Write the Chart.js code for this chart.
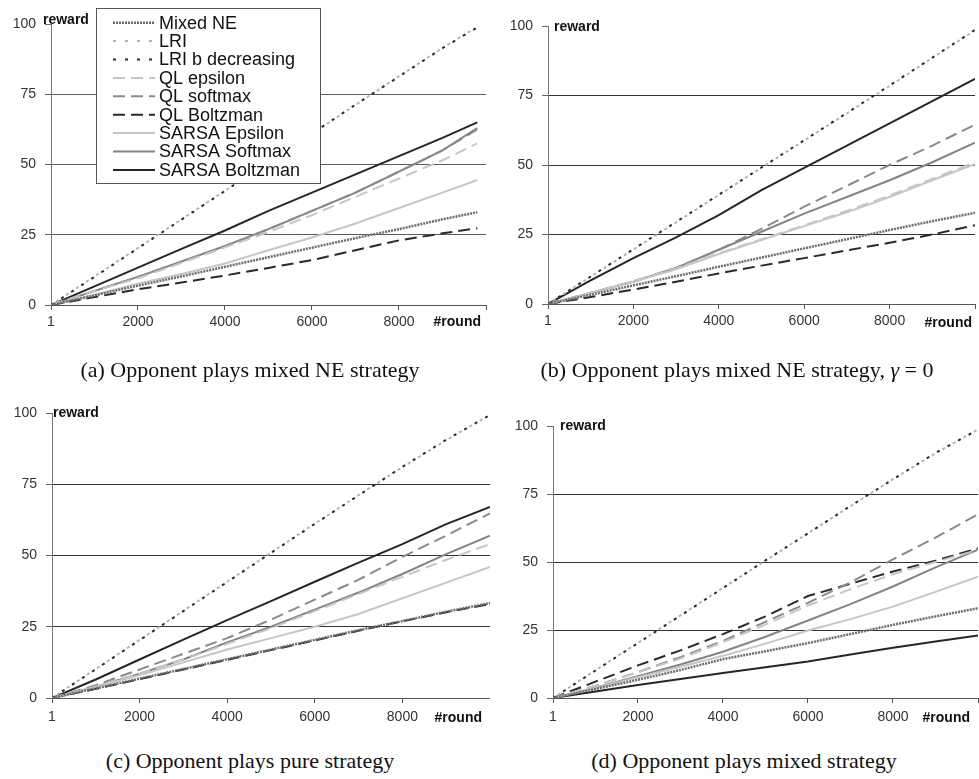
<!DOCTYPE html>
<html>
<head>
<meta charset="utf-8">
<script src="https://cdn.jsdelivr.net/npm/chart.js@4.4.0/dist/chart.umd.min.js"></script>
<style>
  body { margin: 0; background: #fff; }
  #page { position: relative; width: 979px; height: 779px; overflow: hidden; background: #fff; }
  .clip { position: absolute; overflow: hidden; }
  .inner { position: relative; height: 100%; }
  .caption { position: absolute; width: 500px; text-align: center; white-space: nowrap;
    font: 22px/22px "Liberation Serif", "Times New Roman", serif; color: #111; }
</style>
</head>
<body>
<div id="page">
  <div class="clip" style="left:0;top:0;width:490px;height:335px"><div class="inner" style="width:490px"><canvas id="chartA"></canvas></div></div>
  <div class="clip" style="left:490px;top:0;width:489px;height:334px"><div class="inner" style="width:489px"><canvas id="chartB"></canvas></div></div>
  <div class="clip" style="left:0;top:380px;width:490px;height:348px"><div class="inner" style="width:496px"><canvas id="chartC"></canvas></div></div>
  <div class="clip" style="left:490px;top:380px;width:489px;height:348px"><div class="inner" style="width:494px"><canvas id="chartD"></canvas></div></div>

  <div class="caption" style="left:0;top:359px">(a) Opponent plays mixed NE strategy</div>
  <div class="caption" style="left:487px;top:359px">(b) Opponent plays mixed NE strategy, <i>γ</i> = 0</div>
  <div class="caption" style="left:0;top:750px">(c) Opponent plays pure strategy</div>
  <div class="caption" style="left:494px;top:750px">(d) Opponent plays mixed strategy</div>
</div>
<script>
const seriesNames = ["Mixed NE", "LRI", "LRI b decreasing", "QL epsilon", "QL softmax",
  "QL Boltzman", "SARSA Epsilon", "SARSA Softmax", "SARSA Boltzman"];

const roundsA = [1, 1000, 2000, 3000, 4000, 5000, 6000, 7000, 8000, 9000, 9800];
const rounds = [1, 1000, 2000, 3000, 4000, 5000, 6000, 7000, 8000, 9000, 10000];
const roundTicks = [1, 2000, 4000, 6000, 8000, 10000];
const rewardTicks = [0, 25, 50, 75, 100];

// (a) opponent plays mixed NE strategy
const mixedNeA = [0, 3.4, 6.9, 10.2, 13.6, 17, 20.4, 23.8, 27, 30.5, 33];
const lriA = [0, 10.2, 20.3, 30.5, 40.7, 50.8, 61, 71.2, 81.4, 91.5, 99];
const lriDecA = [0, 10, 20.2, 30.4, 40.6, 50.9, 61, 71.3, 81.3, 91.4, 98.8];
const qlEpsA = [0, 5, 9.5, 15, 20.5, 26, 32, 38.5, 45, 51.5, 57.5];
const qlSoftA = [0, 5, 10, 15.3, 20.8, 27, 33.5, 40, 47.5, 55, 62.5];
const qlBoltzA = [0, 2.8, 5.6, 8, 10.5, 13.2, 16, 19.5, 23, 25.5, 27.3];
const sarsaEpsA = [0, 3.7, 7.6, 11, 14.8, 19.5, 24, 29, 34.5, 40, 44.5];
const sarsaSoftA = [0, 5, 10, 15.5, 21, 27, 33.5, 40, 47.5, 55, 63];
const sarsaBoltzA = [0, 6.6, 13.3, 20, 26.5, 33.5, 40, 46.5, 53, 59.5, 65];

// (b) mixed NE, gamma = 0
const mixedNeB = [0, 3.3, 6.7, 10, 13.4, 16.7, 20, 23.3, 26.6, 29.8, 32.8];
const lriB = [0, 9.8, 19.6, 29.4, 39.2, 49, 58.8, 68.6, 78.4, 88.5, 98.5];
const lriDecB = [0, 9.9, 19.7, 29.5, 39.3, 49.1, 58.9, 68.7, 78.6, 88.6, 98.6];
const qlEpsB = [0, 4, 8.2, 12.8, 18.3, 23.3, 28.3, 33.5, 39, 45, 51];
const qlSoftB = [0, 4, 8.2, 13, 19.5, 27, 35, 42.5, 50, 57, 64.5];
const qlBoltzB = [0, 2.5, 5.2, 8, 11, 13.8, 16.5, 19.3, 22, 25, 28.3];
const sarsaEpsB = [0, 4, 8, 12.5, 18, 23, 28, 33, 38.5, 44.5, 50.3];
const sarsaSoftB = [0, 4, 8, 13, 19.5, 26, 32.5, 38.5, 44.5, 51, 58];
const sarsaBoltzB = [0, 8.5, 16.5, 24, 32, 41, 49, 57, 65, 73, 81];

// (c) pure strategy
const mixedNeC = [0, 3.4, 6.8, 10.2, 13.6, 17, 20.4, 23.8, 27, 30.3, 33.3];
const lriC = [0, 10.2, 20.4, 30.6, 40.8, 51, 61.2, 71.2, 81, 90.5, 99.4];
const lriDecC = [0, 10.1, 20.3, 30.5, 40.7, 50.9, 61.1, 71.1, 81.1, 90.6, 99.3];
const qlEpsC = [0, 4, 8.5, 13.5, 19, 24.5, 30.5, 36.5, 42.5, 48.5, 54];
const qlSoftC = [0, 4.5, 10, 15.5, 21, 27.5, 34.5, 41.5, 49.5, 57, 64.8];
const qlBoltzC = [0, 3.2, 6.6, 10, 13.4, 16.8, 20.2, 23.6, 26.9, 30.1, 33];
const sarsaEpsC = [0, 4, 8, 12.5, 17, 21, 25, 29.5, 35, 40.5, 46];
const sarsaSoftC = [0, 4, 8.5, 13.5, 19.5, 25, 31, 37, 43.5, 50.5, 57];
const sarsaBoltzC = [0, 6.5, 13.5, 20.5, 27.3, 34, 40.8, 47.5, 54, 61, 67];

// (d) mixed strategy
const mixedNeD = [0, 3.3, 6.7, 10.3, 14.3, 17.2, 20.2, 23.5, 26.9, 30, 33];
const lriD = [0, 10.2, 20.3, 30.4, 40.5, 50.5, 60.6, 70.5, 80.5, 90, 98.7];
const lriDecD = [0, 10.1, 20.2, 30.3, 40.4, 50.6, 60.5, 70.6, 80.4, 90.1, 98.6];
const qlEpsD = [0, 4.5, 9.5, 14.5, 20.5, 27, 34, 40, 45.5, 50, 54.5];
const qlSoftD = [0, 4.5, 9.5, 15, 21, 28, 35, 42.5, 51, 59, 67.5];
const qlBoltzD = [0, 6, 12, 17.5, 23.5, 30, 37.5, 42, 46.5, 50.5, 55];
const sarsaEpsD = [0, 3.7, 7.6, 11.5, 15.5, 20, 24.8, 29, 33.6, 39, 44.6];
const sarsaSoftD = [0, 3.8, 8, 12.3, 17, 22.5, 28.5, 34.5, 41, 48, 54.5];
const sarsaBoltzD = [0, 2.4, 4.8, 7, 9.2, 11.3, 13.4, 16, 18.5, 20.8, 23];

const FONT = "'Liberation Sans', Arial, sans-serif";

// line look for each series, same order as seriesNames
const seriesStyles = [
  { color: "#6c6c6c", width: 2.5, dash: [2, 1] },
  { color: "#b4b4b4", width: 2, dash: [3, 9], offset: 6 },
  { color: "#2a2a2a", width: 2, dash: [3, 9] },
  { color: "#c6c6c6", width: 2, dash: [12, 6] },
  { color: "#8a8a8a", width: 2, dash: [12, 6] },
  { color: "#2a2a2a", width: 2, dash: [12, 6] },
  { color: "#c6c6c6", width: 2 },
  { color: "#848484", width: 2 },
  { color: "#262626", width: 2 },
];

// "reward" and "#round" words next to the axes
const axisWords = {
  id: "axisWords",
  afterDraw(chart, args, opts) {
    const { ctx, chartArea } = chart;
    ctx.save();
    ctx.fillStyle = "#111";
    ctx.font = "bold 14px " + FONT;
    ctx.textBaseline = "middle";
    ctx.textAlign = "left";
    ctx.fillText("reward", chartArea.left + opts.rewardDx, chartArea.top + opts.rewardDy);
    ctx.textAlign = "right";
    ctx.fillText("#round", chartArea.right + opts.roundDx, chartArea.bottom + opts.roundDy);
    ctx.restore();
  },
};

// framed legend drawn over the lines (only panel a has one)
const boxLegend = {
  id: "boxLegend",
  afterDraw(chart, args, opts) {
    if (!opts.show) return;
    const { ctx } = chart;
    const { x, y, w, h, rowH } = opts;
    ctx.save();
    ctx.fillStyle = "#fff";
    ctx.fillRect(x, y, w, h);
    ctx.strokeStyle = "#555";
    ctx.lineWidth = 1;
    ctx.strokeRect(x + 0.5, y + 0.5, w, h);
    ctx.font = "18px " + FONT;
    ctx.textBaseline = "middle";
    chart.data.datasets.forEach((ds, i) => {
      const cy = y + 14.7 + i * rowH;
      ctx.strokeStyle = ds.borderColor;
      ctx.lineWidth = ds.borderWidth;
      ctx.setLineDash(ds.borderDash || []);
      ctx.lineDashOffset = 0;
      ctx.beginPath();
      ctx.moveTo(x + 17, cy);
      ctx.lineTo(x + 59, cy);
      ctx.stroke();
      ctx.setLineDash([]);
      ctx.fillStyle = "#111";
      ctx.fillText(ds.label, x + 63, cy + 1);
    });
    ctx.restore();
  },
};

function makePanel(canvasId, xs, seriesValues, geo) {
  const datasets = seriesValues.map((vals, i) => {
    const st = seriesStyles[i];
    return {
      label: seriesNames[i],
      data: xs.map((r, j) => ({ x: r, y: vals[j] })),
      borderColor: st.color,
      borderWidth: st.width,
      borderDash: st.dash || [],
      borderDashOffset: st.offset || 0,
      pointRadius: 0,
      tension: 0,
      fill: false,
    };
  });

  new Chart(document.getElementById(canvasId), {
    type: "line",
    data: { datasets },
    options: {
      responsive: true,
      maintainAspectRatio: false,
      animation: false,
      layout: { padding: { top: geo.padTop, right: geo.padRight, left: 0, bottom: 0 } },
      plugins: {
        legend: { display: false },
        tooltip: { enabled: false },
        axisWords: geo.words,
        boxLegend: geo.legend || { show: false },
      },
      scales: {
        x: {
          type: "linear",
          min: 1,
          max: 10000,
          afterBuildTicks: (s) => { s.ticks = roundTicks.map((v) => ({ value: v })); },
          afterFit: (s) => { s.height = geo.axisH; },
          ticks: {
            color: "#333",
            font: { family: FONT, size: 14 },
            padding: geo.xPad,
            maxRotation: 0,
            autoSkip: false,
            callback: (v) => (v === 10000 ? "" : String(v)),
          },
          grid: { drawOnChartArea: false, tickLength: 5, tickColor: "#555" },
          border: { color: "#555", width: 1 },
        },
        y: {
          min: 0,
          max: 100,
          afterBuildTicks: (s) => { s.ticks = rewardTicks.map((v) => ({ value: v })); },
          afterFit: (s) => { s.width = geo.axisW; },
          ticks: { color: "#333", font: { family: FONT, size: 14 }, padding: 9 },
          grid: {
            color: (c) => (c.tick && c.tick.value > 0 && c.tick.value < 100 ? geo.gridColor : "rgba(0,0,0,0)"),
            tickColor: "#666",
            tickLength: 6,
            lineWidth: 1,
          },
          border: { color: "#777", width: 1 },
        },
      },
    },
    plugins: [axisWords, boxLegend],
  });
}

makePanel("chartA", roundsA,
  [mixedNeA, lriA, lriDecA, qlEpsA, qlSoftA, qlBoltzA, sarsaEpsA, sarsaSoftA, sarsaBoltzA],
  { axisW: 51, padTop: 24, padRight: 2, axisH: 30, xPad: 4, gridColor: "#5c5c5c",
    words: { rewardDx: -8, rewardDy: -4, roundDx: -5, roundDy: 17 },
    legend: { show: true, x: 96, y: 8, w: 224, h: 175, rowH: 18.4 } });

makePanel("chartB", rounds,
  [mixedNeB, lriB, lriDecB, qlEpsB, qlSoftB, qlBoltzB, sarsaEpsB, sarsaSoftB, sarsaBoltzB],
  { axisW: 58, padTop: 26, padRight: 1, axisH: 30, xPad: 4, gridColor: "#333",
    words: { rewardDx: 6, rewardDy: 1, roundDx: -3, roundDy: 19 } });

makePanel("chartC", rounds,
  [mixedNeC, lriC, lriDecC, qlEpsC, qlSoftC, qlBoltzC, sarsaEpsC, sarsaSoftC, sarsaBoltzC],
  { axisW: 52, padTop: 33, padRight: 1, axisH: 30, xPad: 6, gridColor: "#333",
    words: { rewardDx: 1, rewardDy: 0, roundDx: -8, roundDy: 20 } });

makePanel("chartD", rounds,
  [mixedNeD, lriD, lriDecD, qlEpsD, qlSoftD, qlBoltzD, sarsaEpsD, sarsaSoftD, sarsaBoltzD],
  { axisW: 63, padTop: 46, padRight: 1, axisH: 30, xPad: 6, gridColor: "#333",
    words: { rewardDx: 7, rewardDy: 0, roundDx: -8, roundDy: 20 } });
</script>
</body>
</html>
